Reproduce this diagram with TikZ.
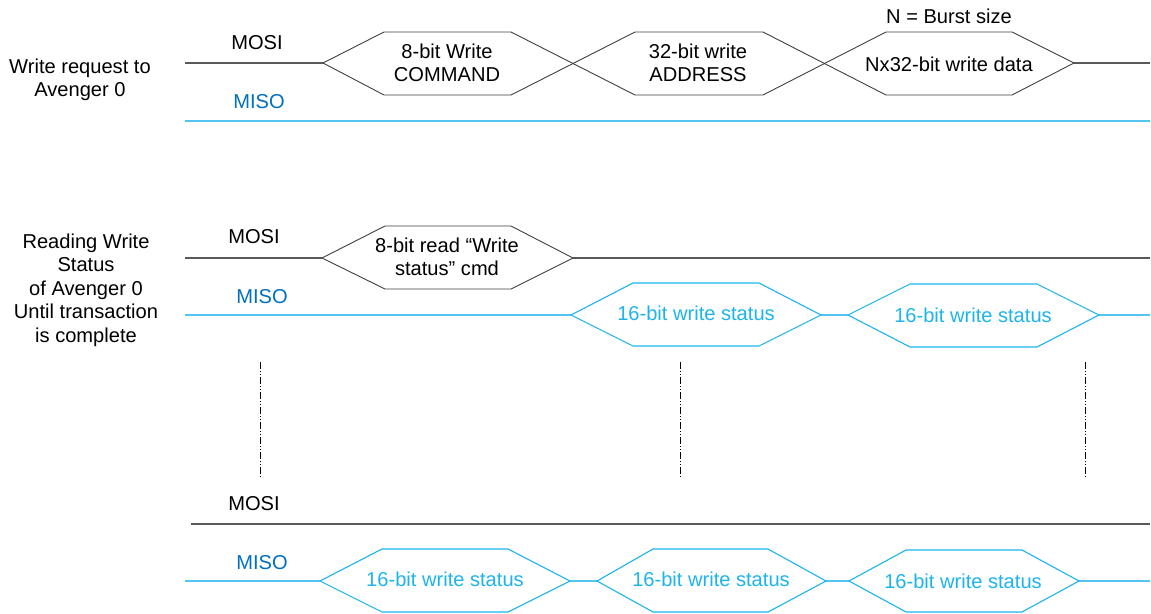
\documentclass[tikz,border=0pt]{standalone}
\usepackage{fontspec}
\setmainfont{Liberation Sans}
\definecolor{misotxt}{HTML}{0070C0}
\definecolor{misoline}{HTML}{55C4F2}
\definecolor{hexblue}{HTML}{1DB4EE}
\definecolor{mosiline}{HTML}{595959}
\definecolor{hexgray}{HTML}{404040}
\tikzset{
  lbl/.style={inner sep=0pt, align=center, font=\fontsize{20.1}{23.6}\selectfont},
  mosilbl/.style={lbl, text=black},
  misolbl/.style={lbl, text=misotxt},
  bluetxt/.style={lbl, text=hexblue},
  mosiwire/.style={draw=mosiline, line width=1.3pt},
  misowire/.style={draw=misoline, line width=1.5pt},
  grayhex/.style={draw=hexgray, line width=0.9pt, line join=miter},
  bluehex/.style={draw=hexblue, line width=1.1pt, line join=miter},
  waitline/.style={draw=black, line width=0.8pt, dash pattern=on 7pt off 2pt on 1pt off 2pt on 1pt off 2pt}
}
\begin{document}
\begin{tikzpicture}[x=1pt,y=-1pt]
\useasboundingbox (0,0) rectangle (1151,613);
\fill[white] (0,0) rectangle (1151,613);

% ---------- Top: write request ----------
\node[lbl] (wr) at (80,80) {Write request to\\Avenger 0};
\node[mosilbl] (mosi1) at (257,43) {MOSI};
\node[misolbl] (miso1) at (259,102) {MISO};
\node[lbl] (burst) at (949,16) {N = Burst size};
\node[lbl] (cmd) at (447,63) {8-bit Write\\COMMAND};
\node[lbl] (addr) at (698,63) {32-bit write\\ADDRESS};
\node[lbl] (data) at (949,64) {Nx32-bit write data};

\coordinate (m1s) at (185,63);
\coordinate (m1a) at (323,63);
\coordinate (m1b) at (1074,63);
\coordinate (m1e) at (1150,63);
\draw[mosiwire] (m1s) -- (m1a);
\draw[mosiwire] (m1b) -- (m1e);
\draw[grayhex] (m1a) -- (384,32) -- (511,32) -- (635,95) -- (763,95) -- (886,32) -- (1012,32) -- (m1b);
\draw[grayhex] (m1a) -- (384,95) -- (511,95) -- (635,32) -- (763,32) -- (886,95) -- (1012,95) -- (m1b);

\coordinate (s1s) at (185,121);
\coordinate (s1e) at (1150,121);
\draw[misowire] (s1s) -- (s1e);

% ---------- Middle: reading write status ----------
\node[lbl] (rd) at (86,290) {Reading Write\\Status\\ of Avenger 0\\Until transaction\\is complete};
\node[mosilbl] (mosi2) at (254,237) {MOSI};
\node[misolbl] (miso2) at (262,297) {MISO};
\node[lbl] (rcmd) at (447,257) {8-bit read “Write\\status” cmd};

\coordinate (m2s) at (185,258);
\coordinate (m2a) at (322,258);
\coordinate (m2b) at (573,258);
\coordinate (m2e) at (1150,258);
\draw[mosiwire] (m2s) -- (m2a);
\draw[mosiwire] (m2b) -- (m2e);
\draw[grayhex] (m2a) -- (385,226) -- (511,226) -- (m2b) -- (511,289) -- (385,289) -- cycle;

\node[bluetxt] (st1) at (696,313) {16-bit write status};
\node[bluetxt] (st2) at (973,315) {16-bit write status};
\coordinate (s2s) at (185,315);
\coordinate (s2a) at (571,315);
\coordinate (s2b) at (821,315);
\coordinate (s2c) at (848,315);
\coordinate (s2d) at (1099,315);
\coordinate (s2e) at (1150,315);
\draw[misowire] (s2s) -- (s2a);
\draw[misowire] (s2b) -- (s2c);
\draw[misowire] (s2d) -- (s2e);
\draw[bluehex] (s2a) -- (633,283) -- (759,283) -- (s2b) -- (759,346) -- (633,346) -- cycle;
\draw[bluehex] (s2c) -- (910,284) -- (1037,284) -- (s2d) -- (1037,347) -- (910,347) -- cycle;

% ---------- Wait markers ----------
\coordinate (w1t) at (260,362); \coordinate (w1b) at (260,478);
\coordinate (w2t) at (680,362); \coordinate (w2b) at (680,478);
\coordinate (w3t) at (1085,362); \coordinate (w3b) at (1085,478);
\draw[waitline] (w1t) -- (w1b);
\draw[waitline] (w2t) -- (w2b);
\draw[waitline] (w3t) -- (w3b);

% ---------- Bottom ----------
\node[mosilbl] (mosi3) at (254,504) {MOSI};
\node[misolbl] (miso3) at (262,563) {MISO};
\coordinate (m3s) at (191,524);
\coordinate (m3e) at (1150,524);
\draw[mosiwire] (m3s) -- (m3e);

\node[bluetxt] (st3) at (445,579) {16-bit write status};
\node[bluetxt] (st4) at (711,579) {16-bit write status};
\node[bluetxt] (st5) at (963,581) {16-bit write status};
\coordinate (s3s) at (185,581);
\coordinate (s3a) at (320,581);
\coordinate (s3b) at (570,581);
\coordinate (s3c) at (597,581);
\coordinate (s3d) at (826,581);
\coordinate (s3f) at (849,581);
\coordinate (s3g) at (1079,581);
\coordinate (s3e) at (1150,581);
\draw[misowire] (s3s) -- (s3a);
\draw[misowire] (s3b) -- (s3c);
\draw[misowire] (s3d) -- (s3f);
\draw[misowire] (s3g) -- (s3e);
\draw[bluehex] (s3a) -- (382,549) -- (508,549) -- (s3b) -- (508,612) -- (382,612) -- cycle;
\draw[bluehex] (s3c) -- (653,549) -- (768,549) -- (s3d) -- (768,612) -- (653,612) -- cycle;
\draw[bluehex] (s3f) -- (906,550) -- (1022,550) -- (s3g) -- (1022,612) -- (906,612) -- cycle;
\end{tikzpicture}
\end{document}
